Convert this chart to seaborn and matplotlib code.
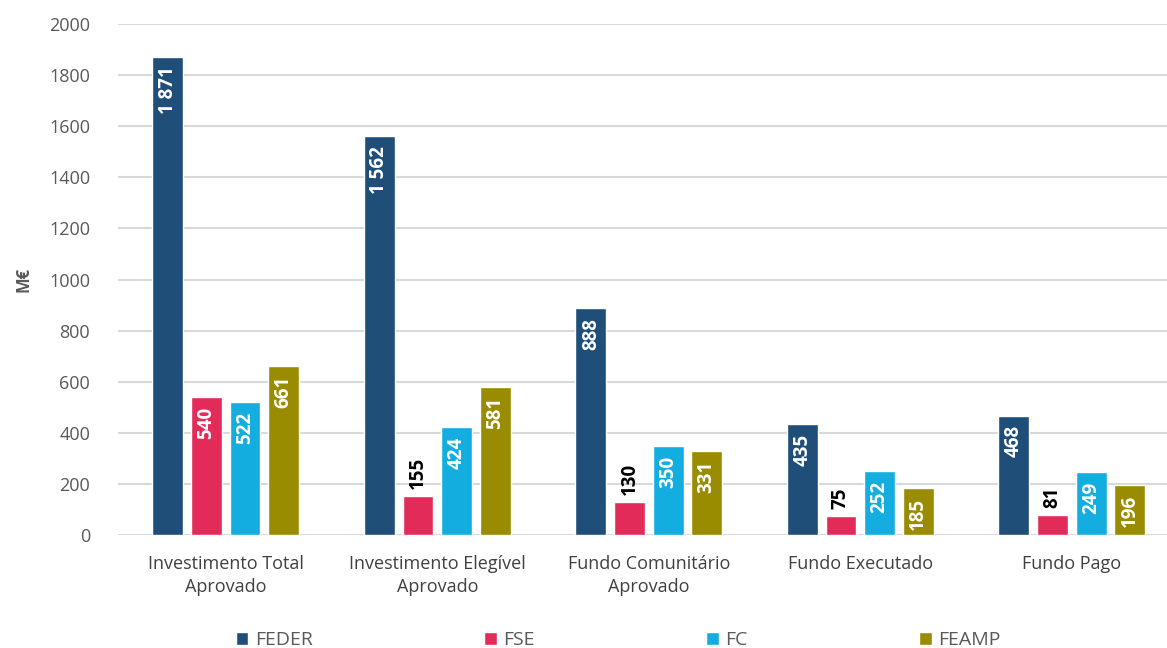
import matplotlib
matplotlib.use("Agg")
import matplotlib.pyplot as plt
import seaborn as sns
import pandas as pd

categories = ["Investimento Total\nAprovado", "Investimento Elegível\nAprovado",
              "Fundo Comunitário\nAprovado", "Fundo Executado", "Fundo Pago"]
series = ["FEDER", "FSE", "FC", "FEAMP"]
feder = [1871, 1562, 888, 435, 468]
fse = [540, 155, 130, 75, 81]
fc = [522, 424, 350, 252, 249]
feamp = [661, 581, 331, 185, 196]
yticks = [0, 200, 400, 600, 800, 1000, 1200, 1400, 1600, 1800, 2000]
colors = ["#1F4E79", "#E32B5A", "#13ADE0", "#9A8C00"]

rows = []
for s, vals in zip(series, [feder, fse, fc, feamp]):
    for c, v in zip(categories, vals):
        rows.append({"cat": c, "serie": s, "val": v})
df = pd.DataFrame(rows)

sns.set_theme(style="white")
plt.rcParams["font.family"] = ["Open Sans", "DejaVu Sans"]

fig = plt.figure(figsize=(11.67, 6.48), dpi=100)
ax = fig.add_axes([0.101, 0.174, 0.899, 0.789])

sns.barplot(data=df, x="cat", y="val", hue="serie", hue_order=series,
            palette=colors, width=0.73, gap=0.2, ax=ax, legend=True,
            saturation=1, errorbar=None)

ax.set_ylim(0, 2000)
ax.set_xlim(-0.51, 4.45)
ax.set_yticks(yticks)
ax.set_yticklabels([str(t) for t in yticks], fontsize=13, color="#595959")
ax.tick_params(axis="y", length=0, pad=20)
ax.tick_params(axis="x", length=0, pad=14, labelsize=13, labelcolor="#404040")
for lbl in ax.get_xticklabels():
    lbl.set_linespacing(1.35)
ax.grid(axis="y", color="#d9d9d9", linewidth=1.5)
ax.set_axisbelow(True)
for sp in ax.spines.values():
    sp.set_visible(False)
ax.set_xlabel("")
ax.set_ylabel("M€", fontsize=12, fontweight="bold", color="#595959", labelpad=12)

def fmt(v):
    return f"{v:,}".replace(",", " ")

for cont, s in zip(ax.containers, series):
    for bar in cont:
        h = bar.get_height()
        x = bar.get_x() + bar.get_width() / 2
        if s == "FSE" and h < 180:
            ax.annotate(fmt(int(round(h))), (x, h), xytext=(0, 5), textcoords="offset points",
                        rotation=90, ha="center", va="bottom", color="black",
                        fontsize=13.5, fontweight="bold")
        else:
            ax.annotate(fmt(int(round(h))), (x, h), xytext=(0, -7), textcoords="offset points",
                        rotation=90, ha="center", va="top", color="white",
                        fontsize=13.5, fontweight="bold")

leg = ax.legend(loc="center", bbox_to_anchor=(0.477, -0.205), ncol=4, frameon=False,
                fontsize=14, handlelength=0.65, handleheight=0.65, handletextpad=0.35,
                columnspacing=8.8)
for t in leg.get_texts():
    t.set_color("#595959")

fig.savefig("out.png", dpi=100)
